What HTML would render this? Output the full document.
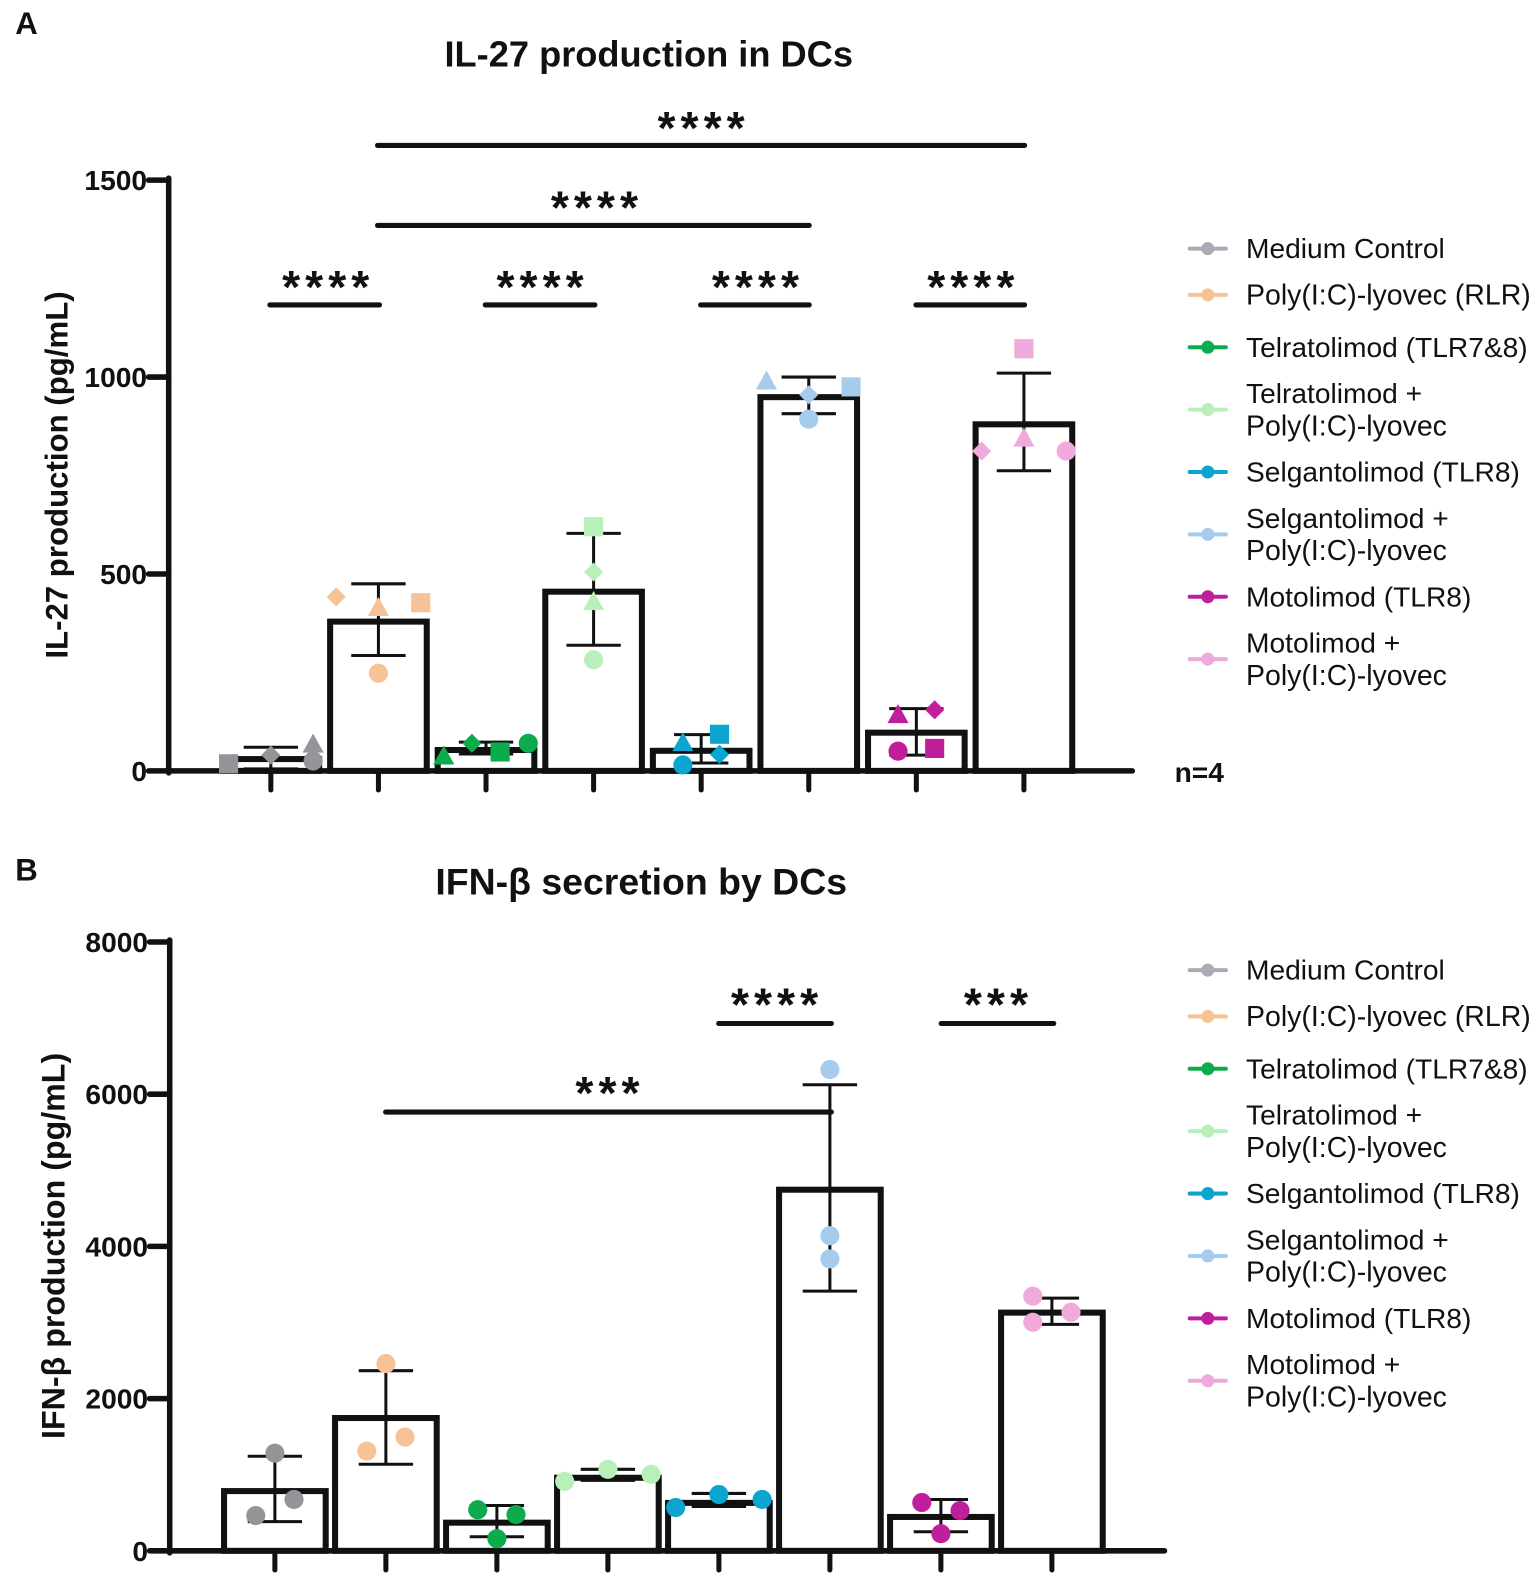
<!DOCTYPE html>
<html lang="en">
<head>
<meta charset="utf-8">
<title>IL-27 and IFN-β production in DCs</title>
<style>
html,body{margin:0;padding:0;background:#fff;}
svg{display:block;}
text{font-family:"Liberation Sans",Arial,sans-serif;fill:#111;}
.title{font-weight:700;font-size:36px;text-anchor:middle;}
.panel{font-weight:700;font-size:31px;}
.axt{font-weight:700;text-anchor:middle;}
.tick{font-weight:700;font-size:28px;text-anchor:end;}
.leg{font-size:28px;}
.leg2{font-size:28.3px;}
.sig{font-weight:700;font-size:46px;text-anchor:middle;letter-spacing:5px;}
.sl{stroke:#111;stroke-width:5;stroke-linecap:round;}
.ll{stroke-width:4;stroke-linecap:round;}
</style>
</head>
<body>
<svg id="fig" xmlns="http://www.w3.org/2000/svg" width="1535" height="1578" viewBox="0 0 1525 1568">
<rect width="1525" height="1568" fill="#fff"/>
<text class="panel" x="15" y="34">A</text>
<text class="title" x="644.5" y="66">IL-27 production in DCs</text>
<text class="axt" style="font-size:31px" transform="translate(67,472) rotate(-90)">IL-27 production (pg/mL)</text>
<text x="1167" y="777" style="font-weight:700;font-size:28px">n=4</text>

<text class="panel" x="15" y="875">B</text>
<text class="title" style="font-size:37.200px" x="637" y="889">IFN-β secretion by DCs</text>
<text class="axt" style="font-size:32px" transform="translate(64,1238) rotate(-90)">IFN-β production (pg/mL)</text>

<g id="chartA"></g>
<g id="chartB"></g>

<g>
<line class="sl" x1="375" x2="1018" y1="144.500" y2="144.500"/>
<text class="sig" x="699" y="143">****</text>
<line class="sl" x1="375" x2="804" y1="224" y2="224"/>
<text class="sig" x="593" y="222">****</text>
<line class="sl" x1="268" x2="377" y1="303" y2="303"/>
<text class="sig" x="326" y="301">****</text>
<line class="sl" x1="482" x2="591" y1="303" y2="303"/>
<text class="sig" x="539" y="301">****</text>
<line class="sl" x1="696" x2="804" y1="303" y2="303"/>
<text class="sig" x="753" y="301">****</text>
<line class="sl" x1="910" x2="1018" y1="303" y2="303"/>
<text class="sig" x="967" y="301">****</text>
</g>
<g>
<line class="sl" x1="714" x2="826" y1="1017" y2="1017"/>
<text class="sig" x="772" y="1014">****</text>
<line class="sl" x1="935" x2="1047" y1="1017" y2="1017"/>
<text class="sig" x="992" y="1014">***</text>
<line class="sl" x1="383" x2="826" y1="1105" y2="1105"/>
<text class="sig" x="606" y="1102">***</text>
</g>

<g>
<g><line class="ll" x1="1182" x2="1218" y1="247" y2="247" stroke="#a9abb7"/><circle cx="1200" cy="247" r="6.500" fill="#a9abb7"/><text class="leg" x="1238" y="256.500">Medium Control</text></g>
<g><line class="ll" x1="1182" x2="1218" y1="293" y2="293" stroke="#f5c396"/><circle cx="1200" cy="293" r="6.500" fill="#f5c396"/><text class="leg2" x="1238" y="302.500">Poly(I:C)-lyovec (RLR)</text></g>
<g><line class="ll" x1="1182" x2="1218" y1="345" y2="345" stroke="#0cab4d"/><circle cx="1200" cy="345" r="6.500" fill="#0cab4d"/><text class="leg" x="1238" y="354.500">Telratolimod (TLR7&amp;8)</text></g>
<g><line class="ll" x1="1182" x2="1218" y1="407" y2="407" stroke="#b9efb9"/><circle cx="1200" cy="407" r="6.500" fill="#b9efb9"/><text class="leg" x="1238" y="400.500">Telratolimod +</text><text class="leg2" x="1238" y="432.500">Poly(I:C)-lyovec</text></g>
<g><line class="ll" x1="1182" x2="1218" y1="469" y2="469" stroke="#0ca5cf"/><circle cx="1200" cy="469" r="6.500" fill="#0ca5cf"/><text class="leg" x="1238" y="478.500">Selgantolimod (TLR8)</text></g>
<g><line class="ll" x1="1182" x2="1218" y1="531" y2="531" stroke="#a5cbed"/><circle cx="1200" cy="531" r="6.500" fill="#a5cbed"/><text class="leg" x="1238" y="524.500">Selgantolimod +</text><text class="leg2" x="1238" y="556.500">Poly(I:C)-lyovec</text></g>
<g><line class="ll" x1="1182" x2="1218" y1="593" y2="593" stroke="#c01f9c"/><circle cx="1200" cy="593" r="6.500" fill="#c01f9c"/><text class="leg" x="1238" y="602.500">Motolimod (TLR8)</text></g>
<g><line class="ll" x1="1182" x2="1218" y1="655" y2="655" stroke="#efa9da"/><circle cx="1200" cy="655" r="6.500" fill="#efa9da"/><text class="leg" x="1238" y="648.500">Motolimod +</text><text class="leg2" x="1238" y="680.500">Poly(I:C)-lyovec</text></g>
</g>
<g>
<g><line class="ll" x1="1182" x2="1218" y1="964" y2="964" stroke="#a9abb7"/><circle cx="1200" cy="964" r="6.500" fill="#a9abb7"/><text class="leg" x="1238" y="973.500">Medium Control</text></g>
<g><line class="ll" x1="1182" x2="1218" y1="1010" y2="1010" stroke="#f5c396"/><circle cx="1200" cy="1010" r="6.500" fill="#f5c396"/><text class="leg2" x="1238" y="1019.500">Poly(I:C)-lyovec (RLR)</text></g>
<g><line class="ll" x1="1182" x2="1218" y1="1062" y2="1062" stroke="#0cab4d"/><circle cx="1200" cy="1062" r="6.500" fill="#0cab4d"/><text class="leg" x="1238" y="1071.500">Telratolimod (TLR7&amp;8)</text></g>
<g><line class="ll" x1="1182" x2="1218" y1="1124" y2="1124" stroke="#b9efb9"/><circle cx="1200" cy="1124" r="6.500" fill="#b9efb9"/><text class="leg" x="1238" y="1117.500">Telratolimod +</text><text class="leg2" x="1238" y="1149.500">Poly(I:C)-lyovec</text></g>
<g><line class="ll" x1="1182" x2="1218" y1="1186" y2="1186" stroke="#0ca5cf"/><circle cx="1200" cy="1186" r="6.500" fill="#0ca5cf"/><text class="leg" x="1238" y="1195.500">Selgantolimod (TLR8)</text></g>
<g><line class="ll" x1="1182" x2="1218" y1="1248" y2="1248" stroke="#a5cbed"/><circle cx="1200" cy="1248" r="6.500" fill="#a5cbed"/><text class="leg" x="1238" y="1241.500">Selgantolimod +</text><text class="leg2" x="1238" y="1273.500">Poly(I:C)-lyovec</text></g>
<g><line class="ll" x1="1182" x2="1218" y1="1310" y2="1310" stroke="#c01f9c"/><circle cx="1200" cy="1310" r="6.500" fill="#c01f9c"/><text class="leg" x="1238" y="1319.500">Motolimod (TLR8)</text></g>
<g><line class="ll" x1="1182" x2="1218" y1="1372" y2="1372" stroke="#efa9da"/><circle cx="1200" cy="1372" r="6.500" fill="#efa9da"/><text class="leg" x="1238" y="1365.500">Motolimod +</text><text class="leg2" x="1238" y="1397.500">Poly(I:C)-lyovec</text></g>
</g>
</svg>

<script>
var groupNames = ['medium-control','poly-ic','telratolimod','telratolimod-poly-ic','selgantolimod','selgantolimod-poly-ic','motolimod','motolimod-poly-ic'];
var groupColors = ['#939598','#f5c396','#0cab4d','#b9efb9','#0ca5cf','#a5cbed','#c01f9c','#efa9da'];

/* Chart A: IL-27 (pg/mL) */
var il27Ticks = [0,500,1000,1500];
var il27Means = [30,379,53,455,51,949,97,880];
var il27ErrHigh = [60,475,73,603,92,1000,158,1010];
var il27ErrLow = [5,293,43,319,20,907,40,762];
var il27Squares = [18,427,48,620,93,975,57,1072];
var il27Diamonds = [40,442,70,505,42,955,155,812];
var il27Triangles = [68,415,38,430,72,990,143,845];
var il27Circles = [25,248,70,282,15,893,50,812];
/* dodge slots: sideways offset in units of a fraction of a category */
var il27SquareSlots = [-3,3,1,0,1.3,3,1.3,0];
var il27DiamondSlots = [0,-3,-1,0,1.3,0,1.3,-3];
var il27TriangleSlots = [3,0,-3,0,-1.3,-3,-1.3,0];
var il27CircleSlots = [3,0,3,0,-1.3,0,-1.3,3];

/* Chart B: IFN-beta (pg/mL) */
var ifnTicks = [0,2000,4000,6000,8000];
var ifnMeans = [785,1745,370,960,630,4745,445,3130];
var ifnErrHigh = [1243,2367,595,1071,754,6124,675,3320];
var ifnErrLow = [384,1137,185,926,582,3413,251,2976];
var ifnFirst = [1283,2460,540,912,569,6323,635,3346];
var ifnSecond = [463,1310,476,1071,740,4140,529,3135];
var ifnThird = [675,1495,160,1005,675,3836,225,3003];
var ifnFirstSlots = [0,0,-1,-2.26,-2.26,0,-1,-1];
var ifnSecondSlots = [-1,-1,1,0,0,0,1,1];
var ifnThirdSlots = [1,1,0,2.26,2.26,0,0,-1];

var SVGNS = 'http://www.w3.org/2000/svg';
function mk(parent, tag, attrs){
  var el = document.createElementNS(SVGNS, tag);
  for (var k in attrs) el.setAttribute(k, attrs[k]);
  parent.appendChild(el);
  return el;
}
function marker(parent, shape, cx, cy, fill){
  var s = 9.5, el;
  if (shape === 'square') el = mk(parent,'rect',{x:cx-s,y:cy-s,width:2*s,height:2*s,fill:fill});
  else if (shape === 'circle') el = mk(parent,'circle',{cx:cx,cy:cy,r:s,fill:fill});
  else if (shape === 'diamond') el = mk(parent,'path',{d:'M'+cx+' '+(cy-s)+'L'+(cx+s)+' '+cy+'L'+cx+' '+(cy+s)+'L'+(cx-s)+' '+cy+'Z',fill:fill});
  else el = mk(parent,'path',{d:'M'+cx+' '+(cy-s-1)+'L'+(cx+s+1)+' '+(cy+s-1)+'L'+(cx-s-1)+' '+(cy+s-1)+'Z',fill:fill});
  return el;
}
function drawChart(root, cfg){
  var yOf = function(v){ return cfg.y0 - (v / cfg.yMax) * (cfg.y0 - cfg.yTop); };
  var xOf = function(i){ return cfg.x0 + i * cfg.step; };
  var k, i, el;
  /* bars */
  for (i = 0; i < cfg.means.length; i++){
    el = mk(root,'rect',{x:xOf(i)-cfg.barHalf,y:yOf(cfg.means[i]),width:2*cfg.barHalf,height:Math.max(0,cfg.y0-yOf(cfg.means[i])),fill:'#fff',stroke:'#111','stroke-width':6});
    
    
  }
  /* error bars */
  for (i = 0; i < cfg.means.length; i++){
    var up = yOf(cfg.errHigh[i]), lo = yOf(cfg.errLow[i]), cx = xOf(i);
    el = mk(root,'path',{d:'M'+cx+' '+up+'V'+lo+'M'+(cx-27)+' '+up+'H'+(cx+27)+'M'+(cx-27)+' '+lo+'H'+(cx+27),fill:'none',stroke:'#111','stroke-width':3});
    
    
  }
  /* axes */
  el = mk(root,'line',{x1:cfg.axisX,x2:cfg.axisX,y1:cfg.yTop-2,y2:cfg.y0+2,stroke:'#111','stroke-width':5.5,'stroke-linecap':'round'});
  
  
  el = mk(root,'line',{x1:cfg.axisX,x2:cfg.axisEnd,y1:cfg.y0,y2:cfg.y0,stroke:'#111','stroke-width':5.5,'stroke-linecap':'round'});
  
  
  for (i = 0; i < cfg.ticks.length; i++){
    var ty = yOf(cfg.ticks[i]);
    el = mk(root,'line',{x1:cfg.axisX-20,x2:cfg.axisX,y1:ty,y2:ty,stroke:'#111','stroke-width':5.5,'stroke-linecap':'round'});
    
    
    el = mk(root,'text',{'class':'tick',x:cfg.axisX-21.5,y:ty+10});
    el.textContent = String(cfg.ticks[i]);
    
    
  }
  for (i = 0; i < cfg.means.length; i++){
    el = mk(root,'line',{x1:xOf(i),x2:xOf(i),y1:cfg.y0,y2:cfg.y0+19,stroke:'#111','stroke-width':5,'stroke-linecap':'round'});
    
    
  }
  /* points */
  for (k = 0; k < cfg.series.length; k++){
    var ser = cfg.series[k];
    for (i = 0; i < ser.values.length; i++){
      el = marker(root, ser.shape, xOf(i) + ser.slots[i] * cfg.slotWidth, yOf(ser.values[i]), groupColors[i]);
      
      
    }
  }
}
drawChart(document.getElementById('chartA'), {
  y0:766, yTop:179, yMax:1500, x0:269, step:106.9, barHalf:48, axisX:167.5, axisEnd:1125, slotWidth:14,
  ticks:il27Ticks, means:il27Means, errHigh:il27ErrHigh, errLow:il27ErrLow,
  series:[
    {shape:'square',label:'square',values:il27Squares,slots:il27SquareSlots},
    {shape:'diamond',label:'diamond',values:il27Diamonds,slots:il27DiamondSlots},
    {shape:'triangle',label:'triangle',values:il27Triangles,slots:il27TriangleSlots},
    {shape:'circle',label:'circle',values:il27Circles,slots:il27CircleSlots}
  ]
});
drawChart(document.getElementById('chartB'), {
  y0:1541, yTop:936, yMax:8000, x0:273, step:110.3, barHalf:50.5, axisX:168.5, axisEnd:1157, slotWidth:19,
  ticks:ifnTicks, means:ifnMeans, errHigh:ifnErrHigh, errLow:ifnErrLow,
  series:[
    {shape:'circle',label:'replicate-1',values:ifnFirst,slots:ifnFirstSlots},
    {shape:'circle',label:'replicate-2',values:ifnSecond,slots:ifnSecondSlots},
    {shape:'circle',label:'replicate-3',values:ifnThird,slots:ifnThirdSlots}
  ]
});
</script>
</body>
</html>
